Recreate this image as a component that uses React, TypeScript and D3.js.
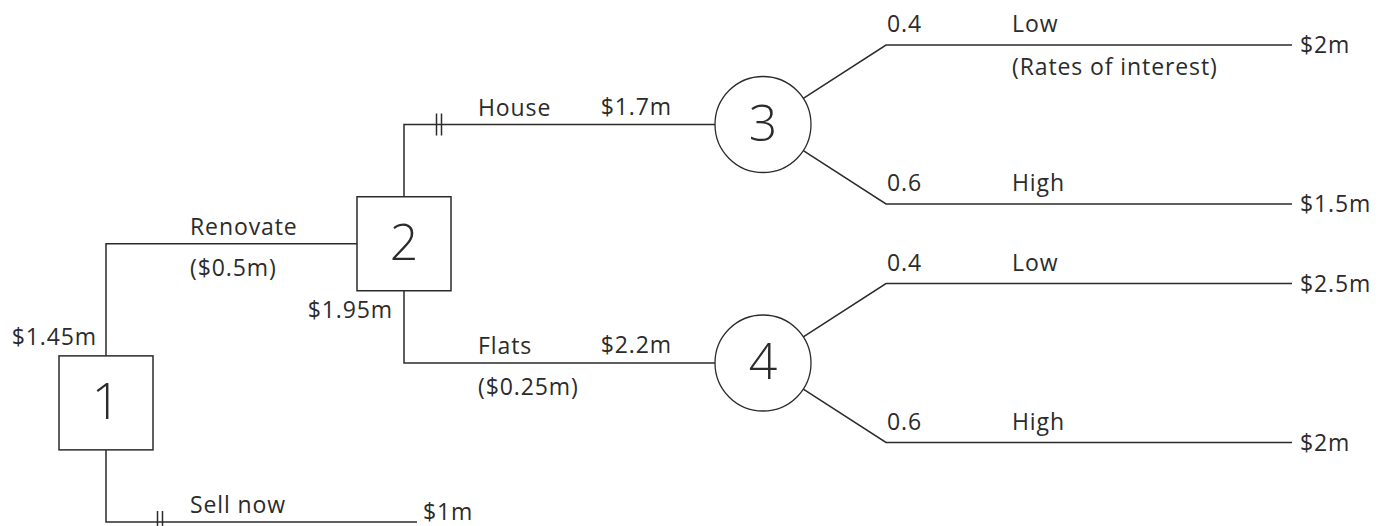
import React, { useEffect, useRef } from 'react';
import * as d3 from 'd3';

// decision tree: renovate or sell
const decisionNodes = ['1', '2'];
const chanceNodes = ['3', '4'];
const nodeValues = [
  { id: '1', value: '$1.45m' },
  { id: '2', value: '$1.95m' },
];
const branches = [
  { parent: '1', child: '2', label: 'Renovate', cost: '($0.5m)', value: '', pruned: false },
  { parent: '1', child: 'sell', label: 'Sell now', cost: '', value: '$1m', pruned: true },
  { parent: '2', child: '3', label: 'House', cost: '', value: '$1.7m', pruned: true },
  { parent: '2', child: '4', label: 'Flats', cost: '($0.25m)', value: '$2.2m', pruned: false },
];
const outcomes = [
  { parent: '3', prob: 0.4, state: 'Low', payoff: '$2m' },
  { parent: '3', prob: 0.6, state: 'High', payoff: '$1.5m' },
  { parent: '4', prob: 0.4, state: 'Low', payoff: '$2.5m' },
  { parent: '4', prob: 0.6, state: 'High', payoff: '$2m' },
];
const stateNote = '(Rates of interest)';

const W = 1391;
const H = 526;

const App: React.FC = () => {
  const svgRef = useRef<SVGSVGElement>(null);

  useEffect(() => {
    if (!svgRef.current) return;
    const svg = d3.select(svgRef.current);
    svg.selectAll('*').remove();

    const ink = '#2b2b2b';
    const font = '"Open Sans", "Noto Sans", sans-serif';
    const fs = 23;
    const half = 47; // half side of decision box
    const r = 48; // chance circle radius
    const payoffX = 1292;

    // rows for stratify
    const rows: any[] = [{ id: '1', parentId: null, kind: 'decision' }];
    branches.forEach(b => {
      const kind = decisionNodes.includes(b.child) ? 'decision' : chanceNodes.includes(b.child) ? 'chance' : 'end';
      rows.push({ id: b.child, parentId: b.parent, kind, branch: b });
    });
    outcomes.forEach((o, i) => {
      rows.push({ id: `o${i}`, parentId: o.parent, kind: 'end', outcome: o, idx: i });
    });

    const root = d3.stratify<any>().id(d => d.id).parentId(d => d.parentId)(rows);
    d3.cluster<any>()
      .size([1, 1])
      .separation((a, b) => (a.parent === b.parent && a.parent?.data.kind === 'chance' ? 2 : 1))(root);

    const leaves = root.leaves();
    const y = d3.scaleLinear()
      .domain(d3.extent(leaves, d => d.x as number) as [number, number])
      .range([45, 522]);
    const x = d3.scaleLinear().domain([0, 1, 2, 3]).range([106, 404, 763, 886]);
    const labelX = d3.scaleLinear().domain([0, 1]).range([190, 478]);

    const pos = new Map<string, { x: number; y: number }>();
    root.each(d => {
      let yy = y(d.x as number);
      if (d.depth === 0) yy += 20; // root box sits a little lower
      pos.set(d.id as string, { x: x(d.depth), y: yy });
    });

    const g = svg.append('g');
    const text = (tx: number, ty: number, s: string, anchor = 'start', size = fs, weight = 400) =>
      g.append('text')
        .attr('x', tx)
        .attr('y', ty)
        .attr('text-anchor', anchor)
        .style('font-family', font)
        .style('font-size', `${size}px`)
        .style('font-weight', weight)
        .style('letter-spacing', size === fs ? '0.9px' : '0px')
        .attr('fill', ink)
        .text(s);

    // links
    root.links().forEach(({ source, target }) => {
      const p = pos.get(source.id as string)!;
      const c = pos.get(target.id as string)!;
      const kind = target.data.kind;
      if (source.data.kind === 'decision') {
        const b = target.data.branch;
        const edgeY = c.y < p.y ? p.y - half : p.y + half;
        const endX = kind === 'decision' ? c.x - half : kind === 'chance' ? c.x - r : c.x + 13;
        g.append('path')
          .attr('d', `M${p.x},${edgeY}V${c.y}H${endX}`)
          .attr('fill', 'none')
          .attr('stroke', ink)
          .attr('stroke-width', 1.5);
        if (b.pruned) {
          const mx = p.x + (kind === 'end' ? 54 : 35);
          [-2.5, 2.5].forEach(o => {
            g.append('line')
              .attr('x1', mx + o).attr('x2', mx + o)
              .attr('y1', c.y - 11).attr('y2', c.y + 11)
              .attr('stroke', ink).attr('stroke-width', 1.5);
          });
        }
        text(labelX(source.depth), c.y - 9, b.label);
        if (b.cost) text(labelX(source.depth), c.y + 32, b.cost);
        if (b.value) {
          if (kind === 'end') text(endX + 6, c.y - 2, b.value);
          else text(endX - 43, c.y - 10, b.value, 'end');
        }
      } else {
        const o = target.data.outcome;
        const ang = Math.atan2(c.y - p.y, c.x - p.x);
        g.append('path')
          .attr('d', `M${p.x + r * Math.cos(ang)},${p.y + r * Math.sin(ang)}L${c.x},${c.y}H${payoffX}`)
          .attr('fill', 'none')
          .attr('stroke', ink)
          .attr('stroke-width', 1.5);
        text(c.x + 1, c.y - 13, String(o.prob));
        text(c.x + 126, c.y - 13, o.state);
        if (target.data.idx === 0) text(c.x + 126, c.y + 30, stateNote);
        text(payoffX + 8, c.y + 8, o.payoff);
      }
    });

    // nodes
    root.descendants().forEach(d => {
      const p = pos.get(d.id as string)!;
      if (d.data.kind === 'decision') {
        g.append('rect')
          .attr('x', p.x - half).attr('y', p.y - half)
          .attr('width', half * 2).attr('height', half * 2)
          .attr('fill', '#fff').attr('stroke', ink).attr('stroke-width', 1.5);
        text(p.x, p.y + 16, d.id as string, 'middle', 50, 300);
        const v = nodeValues.find(n => n.id === d.id);
        if (v) {
          if (d.depth === 0) text(p.x - 9, p.y - half - 11, v.value, 'end');
          else text(p.x - 11, p.y + half + 27, v.value, 'end');
        }
      } else if (d.data.kind === 'chance') {
        g.append('circle')
          .attr('cx', p.x).attr('cy', p.y).attr('r', r)
          .attr('fill', '#fff').attr('stroke', ink).attr('stroke-width', 1.3);
        text(p.x, p.y + 16, d.id as string, 'middle', 50, 300);
      }
    });
  }, []);

  return (
    <svg
      ref={svgRef}
      width={W}
      height={H}
      viewBox={`0 0 ${W} ${H}`}
      style={{ position: 'absolute', left: 0, top: 0, background: '#fff' }}
    />
  );
};

export default App;
